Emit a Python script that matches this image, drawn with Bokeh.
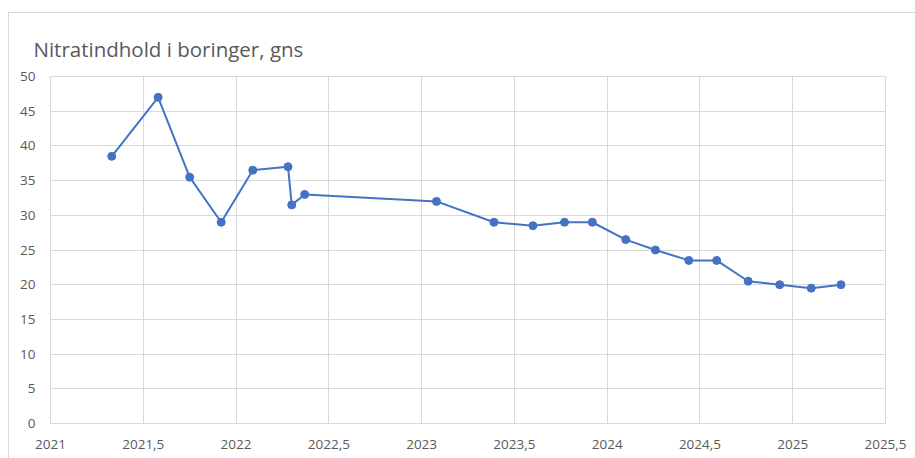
from bokeh.plotting import figure
from bokeh.models import FixedTicker, Range1d
from bokeh.embed import file_html
from bokeh.resources import INLINE

title_text = "Nitratindhold i boringer, gns"
years = [2021.33, 2021.58, 2021.75, 2021.92, 2022.09, 2022.28, 2022.30, 2022.37,
         2023.08, 2023.39, 2023.60, 2023.77, 2023.92, 2024.10, 2024.26, 2024.44,
         2024.59, 2024.76, 2024.93, 2025.10, 2025.26]
nitrate = [38.5, 47.0, 35.5, 29.0, 36.5, 37.0, 31.5, 33.0,
           32.0, 29.0, 28.5, 29.0, 29.0, 26.5, 25.0, 23.5,
           23.5, 20.5, 20.0, 19.5, 20.0]
x_ticks = [2021, 2021.5, 2022, 2022.5, 2023, 2023.5, 2024, 2024.5, 2025, 2025.5]
x_tick_labels = ["2021", "2021,5", "2022", "2022,5", "2023", "2023,5", "2024", "2024,5", "2025", "2025,5"]
y_ticks = [0, 5, 10, 15, 20, 25, 30, 35, 40, 45, 50]

GRID = "#d9d9d9"
TXT = "#595959"
BLUE = "#4472C4"
FONT = "Open Sans"

p = figure(width=907, height=446, output_backend="svg", toolbar_location=None,
           x_range=Range1d(2021, 2025.5), y_range=Range1d(0, 50),
           min_border_left=41, min_border_right=31, min_border_top=63, min_border_bottom=36,
           title=title_text)
p.styles = {"margin-top": "12px", "margin-left": "8px",
            "border-top": f"1px solid {GRID}", "border-left": f"1px solid {GRID}"}

p.title.text_font = FONT
p.title.text_font_size = "20.5px"
p.title.text_font_style = "normal"
p.title.text_color = TXT
p.title.align = "left"
p.title.offset = -17
p.title.standoff = 28

p.line(years, nitrate, line_color=BLUE, line_width=2)
p.scatter(years, nitrate, size=8, fill_color=BLUE, line_color=BLUE)

p.xaxis.ticker = FixedTicker(ticks=x_ticks)
p.xaxis.major_label_overrides = {t: l for t, l in zip(x_ticks, x_tick_labels)}
p.yaxis.ticker = FixedTicker(ticks=y_ticks)

for ax in (p.xaxis, p.yaxis):
    ax.axis_line_color = GRID
    ax.major_tick_line_color = None
    ax.minor_tick_line_color = None
    ax.major_label_text_font = FONT
    ax.major_label_text_font_size = "13.5px"
    ax.major_label_text_color = TXT
p.xaxis.major_label_standoff = 10
p.yaxis.major_label_standoff = 9

p.xgrid.grid_line_color = GRID
p.ygrid.grid_line_color = GRID
p.xgrid.ticker = FixedTicker(ticks=x_ticks)
p.ygrid.ticker = FixedTicker(ticks=y_ticks)
p.outline_line_color = GRID

open("out.html", "w").write(file_html(p, INLINE))
